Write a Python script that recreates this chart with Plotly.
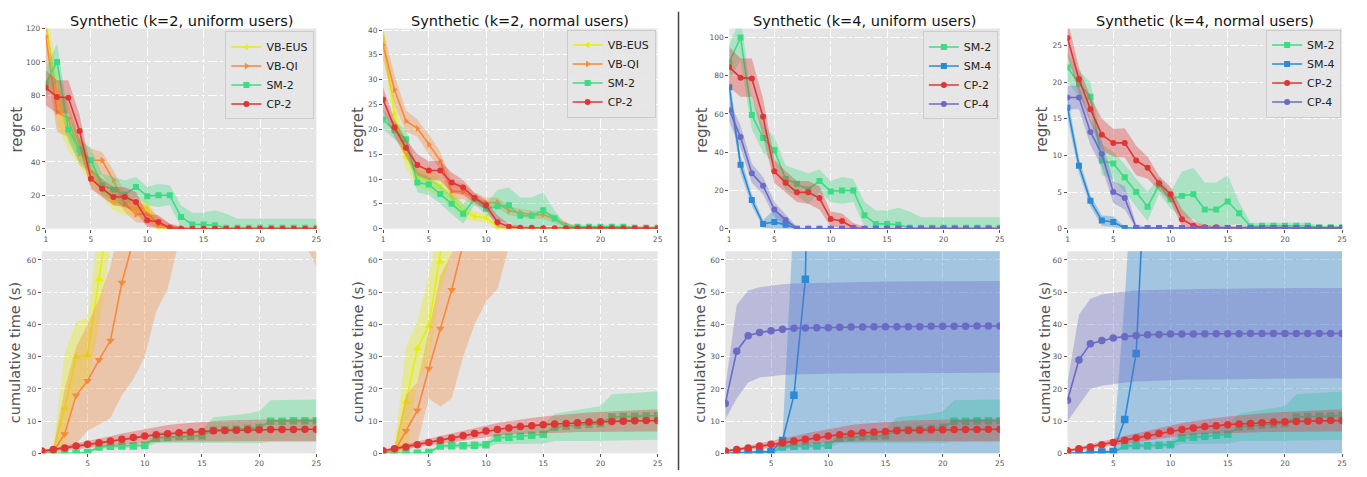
import plotly.graph_objects as go

W, H = 1367, 477
iters = list(range(1, 26))

# ---------------- colours ----------------
C_EUS = "#e4ef0a"
C_QI = "#f58a3c"
C_SM2 = "#3ddc84"
C_SM4 = "#2b8ad6"
C_CP2 = "#e03535"
C_CP4 = "#6b6bc6"

# ---------------- regret: k=2 / k=4, uniform users ----------------
u_eus = [125, 78, 57, 46, 33, 25, 16.5, 14, 12, 12.5, 0.5, 0, 0, 0, 0, 0, 0, 0, 0, 0, 0, 0, 0, 0, 0]
u_eus_hi = [135, 92, 68, 55, 40, 31, 22, 20, 17, 17, 5, 1, 0, 0, 0, 0, 0, 0, 0, 0, 0, 0, 0, 0, 0]
u_eus_lo = [112, 62, 47, 38, 26, 19, 11, 8, 7, 6, 0, 0, 0, 0, 0, 0, 0, 0, 0, 0, 0, 0, 0, 0, 0]
u_qi = [115, 70, 66, 45, 41, 41, 29, 15, 8.5, 9, 3, 1, 0.5, 0, 0, 0, 0, 0, 0, 0, 0, 0, 0, 0, 0]
u_qi_hi = [125, 85, 75, 53, 48, 46, 35, 22, 16, 14, 7, 3, 1.5, 0.5, 0, 0, 0, 0, 0, 0, 0, 0, 0, 0, 0]
u_qi_lo = [100, 58, 55, 38, 33, 32, 22, 10, 4, 3, 0, 0, 0, 0, 0, 0, 0, 0, 0, 0, 0, 0, 0, 0, 0]
u_sm2 = [87, 100, 59.5, 47.5, 41, 26, 23.5, 20.5, 25, 19.5, 20, 20, 7, 2.5, 2.5, 2, 0.5, 0.5, 0.5, 0.5, 0.5, 0.5, 0.5, 0.5, 0.5]
u_sm2_hi = [96, 111, 68, 54, 48, 33, 31, 29, 31, 25, 27, 26, 14, 9.5, 9.5, 11, 9, 6, 6, 6, 6, 6, 6, 6, 6]
u_sm2_lo = [78, 88, 52, 40, 34, 20, 17, 13, 19, 14, 13, 14, 1, 0, 0, 0, 0, 0, 0, 0, 0, 0, 0, 0, 0]
u_cp2 = [84.5, 79, 78.5, 58.5, 30, 24, 19, 19, 16, 5, 4, 0.5, 0, 0, 0, 0, 0, 0, 0, 0, 0, 0, 0, 0, 0]
u_cp2_hi = [95, 89, 89, 68, 36, 30, 25, 25, 22, 9, 8, 3, 1, 0, 0, 0, 0, 0, 0, 0, 0, 0, 0, 0, 0]
u_cp2_lo = [74, 69, 69, 48, 24, 19, 14, 13, 10, 1, 0.5, 0, 0, 0, 0, 0, 0, 0, 0, 0, 0, 0, 0, 0, 0]
u_sm4 = [74, 33.5, 15, 2.5, 3.5, 2, 0, 0, 0, 0, 0, 0, 0, 0, 0, 0, 0, 0, 0, 0, 0, 0, 0, 0, 0]
u_sm4_hi = [80, 38, 18, 4.5, 10, 6, 0.5, 0, 0, 0, 0, 0, 0, 0, 0, 0, 0, 0, 0, 0, 0, 0, 0, 0, 0]
u_sm4_lo = [68, 29, 12, 0.5, 0, 0, 0, 0, 0, 0, 0, 0, 0, 0, 0, 0, 0, 0, 0, 0, 0, 0, 0, 0, 0]
u_cp4 = [62, 48, 29, 22.5, 10, 4.5, 0, 0, 0, 0, 0, 0, 0, 0, 0, 0, 0, 0, 0, 0, 0, 0, 0, 0, 0]
u_cp4_hi = [67, 54, 34, 27, 14, 7.5, 1, 0, 0, 0, 0, 0, 0, 0, 0, 0, 0, 0, 0, 0, 0, 0, 0, 0, 0]
u_cp4_lo = [56, 42, 24, 18, 6, 1.5, 0, 0, 0, 0, 0, 0, 0, 0, 0, 0, 0, 0, 0, 0, 0, 0, 0, 0, 0]

# ---------------- regret: normal users ----------------
n_eus = [38.5, 23, 14.5, 10.5, 9.7, 8.5, 6.3, 3.5, 2.5, 2.2, 0.3, 0, 0, 0, 0, 0, 0, 0, 0, 0, 0, 0, 0, 0, 0]
n_eus_hi = [41, 26, 17, 13, 12, 10.5, 8, 5, 3.5, 3, 0.8, 0, 0, 0, 0, 0, 0, 0, 0, 0, 0, 0, 0, 0, 0]
n_eus_lo = [36, 20, 12, 8.5, 7.5, 6.5, 4.5, 2, 1.5, 1.2, 0, 0, 0, 0, 0, 0, 0, 0, 0, 0, 0, 0, 0, 0, 0]
n_qi = [37, 28, 21.7, 20.2, 17, 13.7, 7.5, 7.5, 6, 5.2, 5.3, 3.6, 3.2, 2.8, 2.8, 2, 0.8, 0.2, 0.2, 0.2, 0.2, 0.2, 0.2, 0.2, 0.2]
n_qi_hi = [40, 31, 23.8, 22, 19, 15.5, 9.5, 9, 7.3, 6.3, 6.3, 4.5, 4, 3.6, 3.6, 2.8, 1.3, 0.5, 0.5, 0.5, 0.5, 0.5, 0.5, 0.5, 0.5]
n_qi_lo = [34, 25, 19.5, 18.5, 15, 12, 5.8, 6, 4.7, 4, 4.2, 2.7, 2.4, 2, 2, 1.2, 0.3, 0, 0, 0, 0, 0, 0, 0, 0]
n_sm2 = [22, 19.8, 18, 9.3, 8.9, 7, 5, 3, 6, 4, 4.5, 4.7, 2.6, 2.6, 3.7, 2.1, 0.3, 0.4, 0.4, 0.4, 0.4, 0.4, 0.2, 0.2, 0.2]
n_sm2_hi = [24, 21.5, 20, 11.5, 10.5, 8.8, 6.8, 5, 7, 5, 7.8, 8.3, 6.3, 6.3, 7.3, 3.6, 0.8, 0.8, 0.8, 0.8, 0.8, 0.8, 0.4, 0.4, 0.4]
n_sm2_lo = [20, 18, 16, 7.3, 6.8, 5, 3, 1, 4.8, 2.8, 1.5, 1.3, 0, 0, 0.5, 0.6, 0, 0, 0, 0, 0, 0, 0, 0, 0]
n_cp2 = [26, 20.4, 16.3, 12.8, 11.7, 11.7, 9.3, 8.3, 6.2, 4.7, 1.3, 0.4, 0.2, 0.2, 0.1, 0.1, 0.1, 0.1, 0.1, 0.1, 0.1, 0.1, 0.1, 0.1, 0.1]
n_cp2_hi = [28.5, 22, 18, 15, 13.6, 13.7, 11.3, 9.8, 7.2, 5.7, 2.7, 1, 0.5, 0.4, 0.2, 0, 0, 0, 0, 0, 0, 0, 0, 0, 0]
n_cp2_lo = [23.5, 18.5, 14.5, 10.7, 9.8, 9.7, 7.3, 6.8, 5.2, 3.7, 0.3, 0, 0, 0, 0, 0, 0, 0, 0, 0, 0, 0, 0, 0, 0]
n_sm4 = [16.5, 8.6, 3.8, 1.1, 0.9, 0.1, 0.1, 0.1, 0.1, 0.1, 0.1, 0.1, 0.1, 0.1, 0.1, 0.1, 0.1, 0.1, 0.1, 0.1, 0.1, 0.1, 0.1, 0.1, 0.1]
n_sm4_hi = [18, 9.6, 4.6, 1.8, 1.7, 0.3, 0, 0, 0, 0, 0, 0, 0, 0, 0, 0, 0, 0, 0, 0, 0, 0, 0, 0, 0]
n_sm4_lo = [15, 7.6, 3, 0.4, 0.2, 0, 0, 0, 0, 0, 0, 0, 0, 0, 0, 0, 0, 0, 0, 0, 0, 0, 0, 0, 0]
n_cp4 = [17.9, 17.9, 13.2, 10.2, 5, 4.2, 0.1, 0.1, 0.1, 0.1, 0.1, 0.1, 0.1, 0.1, 0.1, 0.1, 0.1, 0.1, 0.1, 0.1, 0.1, 0.1, 0.1, 0.1, 0.1]
n_cp4_hi = [19.5, 19.5, 15, 12, 6.5, 5.8, 0.6, 0.2, 0, 0, 0, 0, 0, 0, 0, 0, 0, 0, 0, 0, 0, 0, 0, 0, 0]
n_cp4_lo = [16.3, 16.3, 11.4, 8.4, 3.5, 2.6, 0, 0, 0, 0, 0, 0, 0, 0, 0, 0, 0, 0, 0, 0, 0, 0, 0, 0, 0]

# ---------------- cumulative time: uniform users ----------------
tu_eus = [0.3, 1, 14, 30, 30.5, 54, 78, 104, 131, 158, 186, 214, 241, 268, 296, 324, 351, 379, 406, 434, 461, 489, 516, 544, 571]
tu_eus_hi = [0.5, 2, 31, 41, 42, 66, 92, 120, 150, 180, 210, 240, 270, 300, 330, 360, 390, 420, 450, 480, 510, 540, 570, 600, 630]
tu_eus_lo = [0.1, 0, 3, 19, 20.5, 40, 63, 88, 112, 136, 162, 188, 212, 236, 262, 288, 312, 338, 362, 388, 412, 438, 462, 488, 512]
tu_qi = [0.3, 0.5, 6, 18, 22.5, 29, 35, 53, 66, 80, 95, 110, 125, 140, 155, 170, 185, 200, 215, 230, 245, 260, 275, 290, 305]
tu_qi_hi = [0.5, 1.5, 20, 33, 40, 48, 58, 72, 90, 110, 130, 150, 170, 190, 210, 230, 250, 270, 290, 310, 330, 350, 370, 390, 410]
tu_qi_lo = [0.1, 0, 0, 3, 7, 9, 11, 18, 23, 30, 44, 51, 66, 72, 77, 81, 84, 86, 88, 89, 87, 83, 76, 65, 58]
tu_sm2 = [0, 0, 0, 0, 0.3, 2, 2.2, 2.3, 2.3, 2.5, 4.8, 5, 5.2, 5.3, 5.5, 7.2, 7.3, 7.5, 7.7, 8, 10, 10, 10.1, 10.1, 10.1]
tu_sm2_hi = [0, 0, 0.2, 0.3, 0.6, 2.6, 2.8, 2.9, 3, 3.3, 6.5, 6.8, 7, 7.1, 7.4, 11.2, 11.5, 11.9, 12.4, 13, 16.5, 16.5, 16.6, 16.7, 16.7]
tu_sm2_lo = [0, 0, 0, 0, 0.1, 1.4, 1.6, 1.7, 1.7, 1.8, 3.1, 3.1, 3.2, 3.2, 3.3, 3.2, 3.2, 3.2, 3.2, 3.1, 3.5, 3.5, 3.5, 3.5, 3.5]
tu_cp2 = [0.7, 1.2, 1.7, 2.3, 2.8, 3.3, 3.8, 4.4, 4.9, 5.4, 5.8, 6.1, 6.4, 6.6, 6.8, 7.0, 7.1, 7.2, 7.3, 7.3, 7.4, 7.4, 7.4, 7.5, 7.5]
tu_cp2_hi = [1, 1.6, 2.3, 3.1, 3.8, 4.6, 5.3, 6.2, 6.9, 7.6, 8.3, 8.8, 9.2, 9.5, 9.8, 10, 10.2, 10.3, 10.4, 10.5, 10.6, 10.6, 10.7, 10.7, 10.8]
tu_cp2_lo = [0.4, 0.8, 1.1, 1.5, 1.8, 2.1, 2.4, 2.7, 3, 3.3, 3.5, 3.6, 3.7, 3.8, 3.8, 3.9, 3.9, 3.9, 3.9, 3.9, 3.9, 3.9, 3.9, 3.8, 3.8]
tu_sm4 = [0, 0.2, 0.3, 0.5, 0.5, 4, 18, 54, 250, 420, 560, 680, 790, 890, 980, 1060, 1130, 1200, 1260, 1310, 1360, 1400, 1440, 1470, 1500]
tu_sm4_hi = [0.1, 0.4, 0.6, 0.8, 1, 5, 75, 150, 520, 860, 1150, 1400, 1620, 1820, 2000, 2160, 2300, 2430, 2550, 2650, 2750, 2830, 2910, 2970, 3030]
tu_sm4_lo = [0, 0, 0, 0, 0, -3, -40, -60, -20, -20, -30, -40, -40, -40, -40, -40, -40, -30, -30, -30, -30, -30, -30, -30, -30]
tu_cp4 = [15.5, 31.7, 36.5, 37.5, 38, 38.5, 38.8, 38.9, 39, 39, 39.1, 39.2, 39.2, 39.3, 39.3, 39.3, 39.3, 39.3, 39.4, 39.4, 39.4, 39.4, 39.5, 39.5, 39.5]
tu_cp4_hi = [20.5, 46, 50.5, 51.5, 52, 52.5, 52.7, 52.8, 52.9, 53, 53.1, 53.2, 53.2, 53.3, 53.3, 53.3, 53.3, 53.4, 53.4, 53.4, 53.4, 53.5, 53.5, 53.5, 53.5]
tu_cp4_lo = [10.5, 17, 22, 23.5, 24, 24.3, 24.5, 24.6, 24.7, 24.7, 24.8, 24.8, 24.8, 24.9, 24.9, 24.9, 24.9, 24.9, 25, 25, 25, 25, 25, 25, 25]

# ---------------- cumulative time: normal users ----------------
tn_eus = [0, 1, 16, 32.5, 39.5, 59.5, 76, 95, 115, 136, 158, 180, 203, 226, 250, 274, 298, 322, 346, 370, 394, 418, 442, 466, 490]
tn_eus_hi = [0.3, 2, 33, 41, 55, 70, 90, 112, 135, 160, 185, 210, 236, 262, 288, 314, 340, 366, 392, 418, 444, 470, 496, 522, 548]
tn_eus_lo = [0, 0, 0, 22, 28, 50, 62, 78, 95, 112, 130, 150, 170, 190, 212, 234, 256, 278, 300, 322, 344, 366, 388, 410, 432]
tn_qi = [0.3, 0.5, 7, 13.3, 26.3, 38.7, 50.7, 65, 80, 95, 110, 125, 140, 155, 170, 185, 200, 215, 230, 245, 260, 275, 290, 305, 320]
tn_qi_hi = [0.5, 1.5, 18, 22, 38, 55, 62, 72, 90, 110, 130, 150, 170, 190, 210, 230, 250, 270, 290, 310, 330, 350, 370, 390, 410]
tn_qi_lo = [0.1, 0, 0, 3, 17, 14.5, 17, 30, 40, 47, 51, 64, 72, 80, 88, 96, 104, 112, 120, 128, 136, 144, 152, 160, 168]
tn_sm2 = [0, 0, 0, 0, 0.3, 2.3, 2.4, 2.4, 2.5, 2.7, 4.8, 5, 5.3, 5.6, 5.9, 8.2, 8.5, 8.8, 9, 9.3, 11.3, 11.4, 11.5, 11.6, 11.7]
tn_sm2_hi = [0, 0, 0.2, 0.3, 0.6, 3, 3.1, 3.2, 3.3, 3.6, 6.8, 7.2, 7.7, 8.2, 9, 12.3, 12.9, 13.5, 14, 14.6, 18.3, 18.5, 18.8, 19, 19.2]
tn_sm2_lo = [0, 0, 0, 0, 0.1, 1.5, 1.6, 1.7, 1.7, 1.8, 2.9, 2.9, 3, 3, 3, 3.8, 3.8, 3.8, 3.8, 3.7, 4, 4, 4.1, 4.1, 4.2]
tn_cp2 = [0.8, 1.4, 2, 2.7, 3.4, 4.1, 4.8, 5.5, 6.2, 6.9, 7.4, 7.9, 8.3, 8.6, 8.9, 9.1, 9.3, 9.5, 9.7, 9.8, 9.9, 10, 10.1, 10.2, 10.2]
tn_cp2_hi = [1.1, 1.9, 2.7, 3.6, 4.5, 5.4, 6.2, 7.1, 7.9, 8.7, 9.4, 10, 10.6, 11, 11.4, 11.8, 12.1, 12.4, 12.7, 12.9, 13.1, 13.3, 13.4, 13.5, 13.6]
tn_cp2_lo = [0.5, 0.9, 1.3, 1.8, 2.3, 2.8, 3.4, 3.9, 4.5, 5.1, 5.4, 5.8, 6, 6.2, 6.4, 6.4, 6.5, 6.6, 6.7, 6.7, 6.7, 6.7, 6.8, 6.8, 6.8]
tn_sm4 = [0, 0.2, 0.3, 0.4, 0.6, 10.5, 31, 105, 300, 460, 600, 720, 830, 930, 1020, 1100, 1170, 1240, 1300, 1350, 1400, 1440, 1480, 1510, 1540]
tn_sm4_hi = [0.1, 0.4, 0.6, 0.8, 1, 48, 105, 210, 600, 920, 1200, 1440, 1660, 1860, 2040, 2200, 2340, 2480, 2600, 2700, 2800, 2880, 2960, 3020, 3080]
tn_sm4_lo = [0, 0, 0, 0, 0, -20, -40, -60, -20, -20, -30, -40, -40, -40, -40, -40, -40, -30, -30, -30, -30, -30, -30, -30, -30]
tn_cp4 = [16.5, 29, 34, 35, 35.8, 36.2, 36.6, 36.8, 36.9, 37, 37, 37, 37.1, 37.1, 37.1, 37.1, 37.2, 37.2, 37.2, 37.2, 37.2, 37.2, 37.2, 37.2, 37.2]
tn_cp4_hi = [22, 43, 48, 49.3, 49.8, 50.2, 50.5, 50.7, 50.8, 50.9, 51, 51, 51.1, 51.1, 51.1, 51.2, 51.2, 51.2, 51.2, 51.3, 51.3, 51.3, 51.3, 51.3, 51.3]
tn_cp4_lo = [10, 15, 20, 21, 21.6, 22, 22.3, 22.5, 22.6, 22.7, 22.8, 22.9, 22.9, 23, 23, 23, 23.1, 23.1, 23.1, 23.2, 23.2, 23.2, 23.3, 23.3, 23.3]

titles = ["Synthetic (k=2, uniform users)", "Synthetic (k=2, normal users)",
          "Synthetic (k=4, uniform users)", "Synthetic (k=4, normal users)"]
top_ymax = [120, 40.3, 104.7, 27.3]
top_dtick = [20, 5, 20, 5]
bot_ymax = 62.7

# ---------------- pixel layout ----------------
top_x = [(44, 316), (383, 659), (731, 1003), (1071, 1347)]
bot_x = [(40, 316), (383, 659), (727, 1003), (1071, 1347)]
top_y = (25, 229)
bot_y = (252, 458)
legend_pos = [(314, 28), (657, 26), (1001, 28), (1346, 26)]


def px(x):
    return x / W


def py(y):
    return 1 - y / H


def rgba(hexc, a):
    h = hexc.lstrip("#")
    r, g, b = int(h[0:2], 16), int(h[2:4], 16), int(h[4:6], 16)
    return f"rgba({r},{g},{b},{a})"


fig = go.Figure()


def add_series(idx, name, mean, hi, lo, color, symbol, legend, show, msize):
    xa = "x" if idx == 1 else f"x{idx}"
    ya = "y" if idx == 1 else f"y{idx}"
    fig.add_trace(go.Scatter(
        x=iters + iters[::-1], y=hi + lo[::-1], xaxis=xa, yaxis=ya,
        fill="toself", fillcolor=rgba(color, 0.35), line=dict(width=0),
        mode="lines", hoverinfo="skip", showlegend=False))
    fig.add_trace(go.Scatter(
        x=iters, y=mean, xaxis=xa, yaxis=ya, name=name, mode="lines+markers",
        line=dict(color=color, width=1.6),
        marker=dict(symbol=symbol, size=msize, color=color),
        legend=legend, showlegend=show))


top_series = [
    [("VB-EUS", u_eus, u_eus_hi, u_eus_lo, C_EUS, "triangle-left"),
     ("VB-QI", u_qi, u_qi_hi, u_qi_lo, C_QI, "triangle-right"),
     ("SM-2", u_sm2, u_sm2_hi, u_sm2_lo, C_SM2, "square"),
     ("CP-2", u_cp2, u_cp2_hi, u_cp2_lo, C_CP2, "circle")],
    [("VB-EUS", n_eus, n_eus_hi, n_eus_lo, C_EUS, "triangle-left"),
     ("VB-QI", n_qi, n_qi_hi, n_qi_lo, C_QI, "triangle-right"),
     ("SM-2", n_sm2, n_sm2_hi, n_sm2_lo, C_SM2, "square"),
     ("CP-2", n_cp2, n_cp2_hi, n_cp2_lo, C_CP2, "circle")],
    [("SM-2", u_sm2, u_sm2_hi, u_sm2_lo, C_SM2, "square"),
     ("SM-4", u_sm4, u_sm4_hi, u_sm4_lo, C_SM4, "square"),
     ("CP-2", u_cp2, u_cp2_hi, u_cp2_lo, C_CP2, "circle"),
     ("CP-4", u_cp4, u_cp4_hi, u_cp4_lo, C_CP4, "circle")],
    [("SM-2", n_sm2, n_sm2_hi, n_sm2_lo, C_SM2, "square"),
     ("SM-4", n_sm4, n_sm4_hi, n_sm4_lo, C_SM4, "square"),
     ("CP-2", n_cp2, n_cp2_hi, n_cp2_lo, C_CP2, "circle"),
     ("CP-4", n_cp4, n_cp4_hi, n_cp4_lo, C_CP4, "circle")],
]
bot_series = [
    [("VB-EUS", tu_eus, tu_eus_hi, tu_eus_lo, C_EUS, "triangle-up"),
     ("VB-QI", tu_qi, tu_qi_hi, tu_qi_lo, C_QI, "triangle-down"),
     ("SM-2", tu_sm2, tu_sm2_hi, tu_sm2_lo, C_SM2, "square"),
     ("CP-2", tu_cp2, tu_cp2_hi, tu_cp2_lo, C_CP2, "circle")],
    [("VB-EUS", tn_eus, tn_eus_hi, tn_eus_lo, C_EUS, "triangle-up"),
     ("VB-QI", tn_qi, tn_qi_hi, tn_qi_lo, C_QI, "triangle-down"),
     ("SM-2", tn_sm2, tn_sm2_hi, tn_sm2_lo, C_SM2, "square"),
     ("CP-2", tn_cp2, tn_cp2_hi, tn_cp2_lo, C_CP2, "circle")],
    [("SM-2", tu_sm2, tu_sm2_hi, tu_sm2_lo, C_SM2, "square"),
     ("SM-4", tu_sm4, tu_sm4_hi, tu_sm4_lo, C_SM4, "square"),
     ("CP-2", tu_cp2, tu_cp2_hi, tu_cp2_lo, C_CP2, "circle"),
     ("CP-4", tu_cp4, tu_cp4_hi, tu_cp4_lo, C_CP4, "circle")],
    [("SM-2", tn_sm2, tn_sm2_hi, tn_sm2_lo, C_SM2, "square"),
     ("SM-4", tn_sm4, tn_sm4_hi, tn_sm4_lo, C_SM4, "square"),
     ("CP-2", tn_cp2, tn_cp2_hi, tn_cp2_lo, C_CP2, "circle"),
     ("CP-4", tn_cp4, tn_cp4_hi, tn_cp4_lo, C_CP4, "circle")],
]

legend_names = ["legend", "legend2", "legend3", "legend4"]
for c in range(4):
    for (name, m, hi, lo, col, sym) in top_series[c]:
        add_series(c + 1, name, m, hi, lo, col, sym, legend_names[c], True, 6)
    for (name, m, hi, lo, col, sym) in bot_series[c]:
        add_series(c + 5, name, m, hi, lo, col, sym, legend_names[c], False, 7.5)

axis_common = dict(
    showgrid=True, gridcolor="white", gridwidth=1, griddash="dashdot",
    zeroline=False, showline=False, ticks="outside", ticklen=3,
    tickcolor="#555555", tickfont=dict(family="DejaVu Sans", size=7.5, color="#555555"),
)

layout = dict(
    width=W, height=H, margin=dict(l=0, r=0, t=0, b=0),
    paper_bgcolor="white", plot_bgcolor="#E5E5E5",
    font=dict(family="DejaVu Sans", color="#222222"),
)

for c in range(4):
    i_top = c + 1
    i_bot = c + 5
    xk_t = "xaxis" if i_top == 1 else f"xaxis{i_top}"
    yk_t = "yaxis" if i_top == 1 else f"yaxis{i_top}"
    xk_b = f"xaxis{i_bot}"
    yk_b = f"yaxis{i_bot}"
    layout[xk_t] = dict(axis_common, domain=[px(top_x[c][0]), px(top_x[c][1])],
                        range=[1, 25], tickvals=[1, 5, 10, 15, 20, 25],
                        anchor="y" if i_top == 1 else f"y{i_top}")
    layout[yk_t] = dict(axis_common, domain=[py(top_y[1]), py(top_y[0])],
                        range=[0, top_ymax[c]], dtick=top_dtick[c], tick0=0,
                        anchor="x" if i_top == 1 else f"x{i_top}")
    layout[xk_b] = dict(axis_common, domain=[px(bot_x[c][0]), px(bot_x[c][1])],
                        range=[1, 25], tickvals=[5, 10, 15, 20, 25],
                        anchor=f"y{i_bot}")
    layout[yk_b] = dict(axis_common, domain=[py(bot_y[1]), py(bot_y[0])],
                        range=[0, bot_ymax], dtick=10, tick0=0,
                        anchor=f"x{i_bot}")
    lx, ly = legend_pos[c]
    layout[legend_names[c]] = dict(
        x=px(lx), y=py(ly), xanchor="right", yanchor="top",
        xref="paper", yref="paper",
        bgcolor="rgba(229,229,229,0.9)", bordercolor="#cccccc", borderwidth=1,
        font=dict(family="DejaVu Sans", size=11, color="#222222"),
        tracegroupgap=0, itemwidth=30)

fig.update_layout(**layout)

annotations = []
for c in range(4):
    cx = (top_x[c][0] + top_x[c][1]) / 2
    annotations.append(dict(text=titles[c], x=px(cx), y=py(17), xref="paper", yref="paper",
                            showarrow=False, xanchor="center", yanchor="middle",
                            font=dict(family="DejaVu Sans", size=14.5, color="#111111")))
reg_x = [15, 357, 703, 1045]
cum_x = [13, 358, 702, 1049]
for c in range(4):
    annotations.append(dict(text="regret", x=px(reg_x[c]), y=py(128), xref="paper", yref="paper",
                            showarrow=False, textangle=-90, xanchor="center", yanchor="middle",
                            font=dict(family="DejaVu Sans", size=15, color="#555555")))
    annotations.append(dict(text="cumulative time (s)", x=px(cum_x[c]), y=py(355), xref="paper",
                            yref="paper", showarrow=False, textangle=-90, xanchor="center",
                            yanchor="middle",
                            font=dict(family="DejaVu Sans", size=14.5, color="#555555")))
fig.update_layout(annotations=annotations)

fig.add_shape(type="line", xref="paper", yref="paper", x0=px(680), x1=px(680),
              y0=py(8), y1=py(475), line=dict(color="#444444", width=1.5))

fig.write_html("out.html", config={"displayModeBar": False},
               post_script="document.body.style.margin='0px';")
